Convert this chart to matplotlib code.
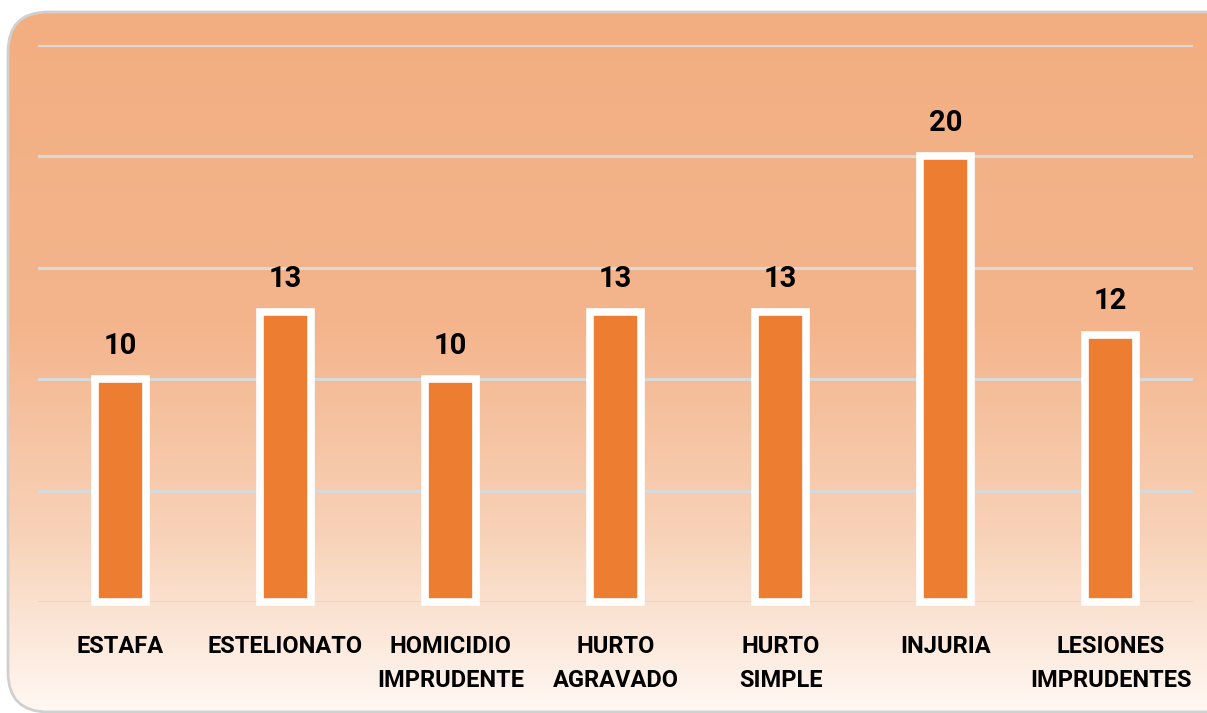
import numpy as np
import matplotlib.pyplot as plt
from matplotlib.patches import FancyBboxPatch
from matplotlib.colors import LinearSegmentedColormap

categories = ["ESTAFA", "ESTELIONATO", "HOMICIDIO\nIMPRUDENTE", "HURTO\nAGRAVADO",
              "HURTO\nSIMPLE", "INJURIA", "LESIONES\nIMPRUDENTES"]
values = [10, 13, 10, 13, 13, 20, 12]

plt.rcParams['font.family'] = ['Liberation Sans Narrow', 'Roboto', 'DejaVu Sans']

fig = plt.figure(figsize=(12.07, 7.13), dpi=100)

# rounded frame with vertical orange gradient
bg = fig.add_axes([0, 0, 1, 1], zorder=0)
bg.set_xlim(0, 1207)
bg.set_ylim(713, 0)
bg.axis('off')
cmap = LinearSegmentedColormap.from_list(
    'bg', [(0.0, '#F2AE80'), (0.45, '#F4B58D'), (0.75, '#F8D2B8'), (1.0, '#FFF8F3')])
grad = np.linspace(0, 1, 256).reshape(-1, 1)
img = bg.imshow(grad, cmap=cmap, aspect='auto', extent=[8, 1230, 712, 12])
frame = FancyBboxPatch((8, 12), 1240, 700, boxstyle='round,pad=0,rounding_size=40',
                       facecolor='none', edgecolor='#D0D0D0', linewidth=2)
bg.add_patch(frame)
img.set_clip_path(frame)

ax = fig.add_axes([38 / 1207, 1 - 602 / 713, 1155 / 1207, (602 - 45) / 713], zorder=1)
ax.patch.set_alpha(0)
x = np.arange(len(categories))
ax.bar(x, values, width=0.315, color='#ED7D31', edgecolor='white', linewidth=5.5,
       zorder=3, clip_on=False)
ax.set_xlim(-0.5, len(categories) - 0.5)
ax.set_ylim(0, 25)
ax.set_yticks(np.arange(0, 26, 5))
ax.yaxis.grid(True, color='#D9D9D9', linewidth=2.2, zorder=1)
ax.set_axisbelow(True)
for s in ax.spines.values():
    s.set_visible(False)
ax.tick_params(left=False, bottom=False, labelleft=False, labelbottom=False)

for xi, v in zip(x, values):
    ax.annotate(str(v), (xi, v), xytext=(0, 14), textcoords='offset points',
                ha='center', va='bottom', fontsize=21, fontweight='bold', color='black')

for xi, c in zip(x, categories):
    ax.annotate(c, (xi, 0), xytext=(0, -24), textcoords='offset points',
                ha='center', va='top', fontsize=17, fontweight='bold', color='black',
                linespacing=1.62)

fig.savefig('out.png', dpi=100)
